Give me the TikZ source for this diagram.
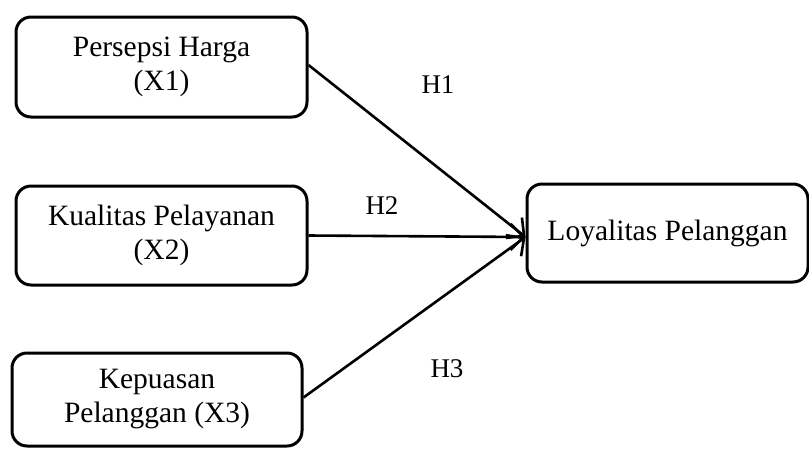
\documentclass[tikz,border=0pt]{standalone}
\usepackage{fontspec}
\setmainfont{Liberation Serif}
\usetikzlibrary{arrows.meta}
\begin{document}
\begin{tikzpicture}[x=1pt,y=-1pt,
  varbox/.style={draw, line width=3pt, rounded corners=15pt, align=center,
    inner sep=0pt, font=\fontsize{29.5}{34}\selectfont},
  link/.style={line width=2.6pt, -{Straight Barb[length=13pt,width=26pt,line width=2.6pt]}},
  hlabel/.style={font=\fontsize{27}{31}\selectfont, inner sep=0pt}]
\useasboundingbox (0,0) rectangle (809,448);
\node[varbox, minimum width=291pt, minimum height=100pt] (x1) at (161.5,67) {Persepsi Harga\\(X1)};
\node[varbox, minimum width=291pt, minimum height=99pt] (x2) at (161.5,235.5) {Kualitas Pelayanan\\(X2)};
\node[varbox, minimum width=290pt, minimum height=93pt] (x3) at (157,399.5) {Kepuasan\\Pelanggan (X3)};
\node[varbox, minimum width=281pt, minimum height=98pt] (y) at (667.5,233) {Loyalitas Pelanggan};
\coordinate (tip) at ([yshift=-4pt]y.west);
\draw[link] ([yshift=2pt]x1.east) -- (tip);
\draw[link] (x2.east) -- (tip);
\draw[link] ([yshift=2pt]x3.east) -- (tip);
\node[hlabel] (h1) at (438,85) {H1};
\node[hlabel] (h2) at (382,206) {H2};
\node[hlabel] (h3) at (447,369) {H3};
\end{tikzpicture}
\end{document}
